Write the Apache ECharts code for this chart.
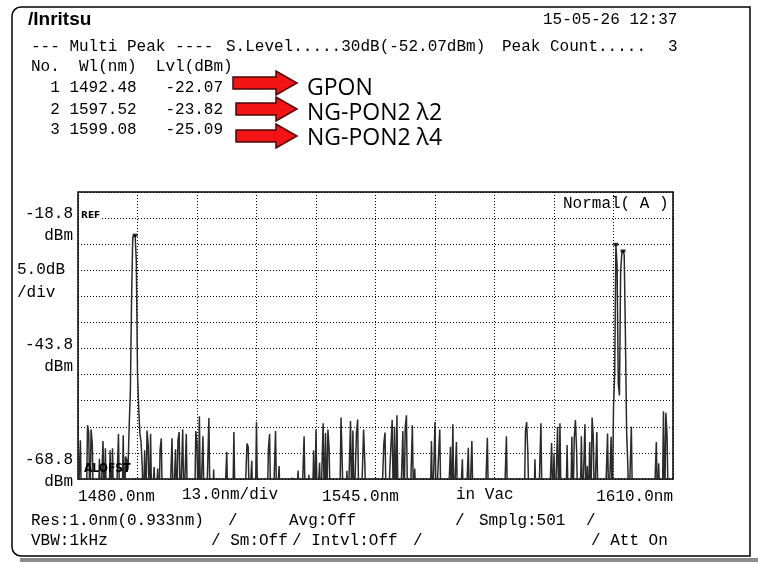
<!DOCTYPE html>
<html>
<head>
<meta charset="utf-8">
<script src="https://cdn.jsdelivr.net/npm/echarts@6/dist/echarts.min.js"></script>
<style>
  html, body { margin: 0; padding: 0; background: #fff; }
  #osa { width: 758px; height: 567px; }
</style>
</head>
<body>
<div id="osa"></div>
<script>
// Sweep settings of the OSA screen
const START_NM = 1480.0;
const STOP_NM = 1610.0;
const DIV_NM = 13.0;
const SAMPLES = 501;
const Y_MIN = -68.8;
const Y_MAX = -13.8;
const DB_PER_DIV = 5;

// Trace level per sampling point (dBm); -75 marks samples under the display floor
const traceDbm = [
  -75,-75,-61.4,-75,-75,-75,-75,-75,-58.5,-59.8,-75,-59.3,-62.0,-75,-75,-75,-75,-75,-64.9,-75,
  -75,-61.5,-75,-62.9,-75,-75,-75,-63.3,-75,-62.9,-75,-75,-75,-75,-60.2,-75,-75,-75,-60.4,-75,
  -64.5,-65.2,-67.0,-58.8,-52.2,-34.6,-22.5,-22.3,-22.07,-27.0,-48.6,-55.1,-60.1,-61.7,-66.5,-75,-63.3,-75,-59.5,-62.3,
  -75,-60.2,-75,-75,-66.5,-75,-75,-66.8,-75,-63.1,-61.0,-75,-75,-75,-75,-75,-75,-75,-75,-61.0,
  -75,-75,-63.1,-75,-61.4,-59.8,-75,-75,-59.3,-75,-75,-60.2,-75,-75,-75,-75,-75,-75,-75,-59.6,
  -62.0,-75,-56.8,-75,-75,-60.6,-75,-75,-75,-75,-57.1,-75,-75,-75,-67.0,-75,-75,-75,-75,-75,
  -75,-75,-75,-75,-75,-63.6,-75,-75,-75,-75,-75,-59.8,-75,-75,-75,-75,-75,-75,-75,-75,
  -75,-75,-62.0,-62.6,-75,-75,-65.3,-75,-75,-75,-57.9,-75,-75,-75,-75,-75,-75,-75,-75,-75,
  -63.1,-60.2,-75,-75,-75,-75,-59.6,-75,-75,-66.3,-75,-75,-75,-75,-75,-75,-75,-75,-75,-75,
  -68.5,-75,-75,-75,-75,-67.2,-75,-75,-75,-75,-60.6,-75,-75,-75,-68.0,-75,-75,-75,-63.3,-75,
  -59.3,-75,-75,-65.7,-75,-75,-58.1,-75,-60.0,-75,-59.3,-62.9,-75,-75,-75,-75,-75,-75,-75,-75,
  -75,-57.0,-65.5,-75,-75,-75,-67.2,-75,-75,-57.7,-75,-59.5,-75,-75,-60.0,-57.4,-75,-75,-75,-75,
  -59.3,-65.5,-75,-75,-75,-75,-75,-75,-75,-75,-68.5,-75,-75,-75,-75,-75,-75,-62.0,-59.9,-75,
  -75,-75,-67.1,-67.4,-57.5,-75,-58.8,-75,-56.6,-75,-75,-75,-75,-59.6,-75,-58.8,-56.6,-75,-75,-75,
  -75,-58.5,-75,-66.8,-75,-75,-75,-75,-75,-75,-75,-75,-75,-75,-75,-75,-75,-61.5,-75,-75,
  -57.9,-75,-75,-64.2,-59.3,-75,-75,-75,-75,-75,-75,-75,-75,-62.6,-75,-58.3,-75,-75,-61.7,-75,
  -75,-75,-75,-65.0,-75,-75,-75,-75,-62.8,-75,-75,-61.5,-75,-75,-75,-75,-75,-75,-75,-75,
  -75,-75,-75,-75,-60.9,-75,-75,-75,-75,-75,-75,-75,-75,-75,-75,-75,-75,-75,-75,-68.3,
  -60.6,-75,-75,-75,-75,-75,-75,-75,-75,-75,-75,-75,-75,-75,-75,-75,-59.6,-57.9,-63.6,-75,
  -75,-75,-75,-75,-65.0,-75,-75,-75,-75,-58.1,-75,-75,-75,-75,-75,-75,-75,-75,-61.9,-75,
  -63.9,-75,-75,-58.8,-75,-58.1,-75,-75,-75,-75,-75,-62.3,-75,-75,-75,-60.7,-75,-61.0,-57.5,-63.3,
  -75,-75,-75,-60.6,-75,-75,-58.3,-75,-66.3,-75,-61.7,-75,-57.0,-60.7,-75,-75,-59.8,-75,-75,-75,
  -75,-75,-75,-75,-75,-60.1,-75,-75,-60.7,-75,-55.1,-48.6,-23.82,-27.9,-50.5,-52.8,-28.9,-25.6,-25.09,-25.8,
  -41.0,-59.5,-66.0,-75,-75,-58.8,-75,-75,-75,-75,-75,-75,-75,-75,-75,-75,-75,-75,-75,-75,
  -75,-75,-75,-75,-75,-75,-61.7,-75,-65.8,-75,-75,-75,-55.8,-75,-56.1,-60.4,-75,-75,-75,-75,
  -75
];

// Multi-peak search result
const peakNo = [1, 2, 3];
const peakWl = [1492.48, 1597.52, 1599.08];
const peakLvl = [-22.07, -23.82, -25.09];
const peakNames = ['GPON', 'NG-PON2 λ2', 'NG-PON2 λ4'];

// Axis tick captions
const xTickValues = [1480, 1545, 1610];
const xTickLabels = ['1480.0nm', '1545.0nm', '1610.0nm'];
const yTickValues = [-18.8, -43.8, -68.8];
const yTickLabels = ['-18.8', '-43.8', '-68.8'];

const MONO = '"Liberation Mono", "DejaVu Sans Mono", monospace';
const MONO16 = '16px ' + MONO;

const step = (STOP_NM - START_NM) / (SAMPLES - 1);
const traceData = traceDbm.map((v, i) => [START_NM + i * step, v]);
const peakData = peakWl.map((w, k) => [w, peakLvl[k]]);

function text(x, y, s, extra) {
  return {
    type: 'text', x: x, y: y, silent: true, z: 10,
    style: Object.assign({
      text: s, font: MONO16, fill: '#000',
      textVerticalAlign: 'middle', verticalAlign: 'middle'
    }, extra || {})
  };
}

function arrow(x0, yc) {
  return {
    type: 'polygon', silent: true, z: 10,
    shape: { points: [[x0, yc - 6], [276, yc - 6], [276, yc - 12], [297, yc],
                      [276, yc + 12], [276, yc + 6], [x0, yc + 6]] },
    style: { fill: '#f01414', stroke: '#4a0606', lineWidth: 1.5 }
  };
}

const tableRows = peakNo.map((n, k) =>
  '  ' + n + ' ' + peakWl[k].toFixed(2) + '   ' + peakLvl[k].toFixed(2));
const rowY = [88, 110, 130];
const arrowY = [83, 109, 136];
const arrowX = [233, 236, 236];
const nameY = [88, 113, 138];

const graphics = [
  // screen frame
  { type: 'rect', silent: true, z: 1,
    shape: { x: 12, y: 7, width: 738, height: 549, r: [9, 0, 0, 9] },
    style: { fill: 'none', stroke: '#000', lineWidth: 1.5 } },
  { type: 'rect', silent: true, z: 1,
    shape: { x: 20, y: 558, width: 738, height: 4 },
    style: { fill: '#8c8c8c' } },

  text(28, 20, '/Inritsu', { font: 'bold 19px "Liberation Sans", sans-serif' }),
  text(543, 20, '15-05-26 12:37'),
  text(31, 47, '--- Multi Peak ----'),
  text(226, 47, 'S.Level.....30dB(-52.07dBm)'),
  text(502, 47, 'Peak Count.....'),
  text(668, 47, String(peakNo.length)),
  text(31, 67, 'No.  Wl(nm)  Lvl(dBm)'),

  text(17, 270, '5.0dB'),
  text(17, 293, '/div'),
  text(81, 216, 'REF', { font: 'bold 9px "DejaVu Sans", sans-serif', backgroundColor: '#fff', padding: [0, 1, 0, 0] }),
  text(84, 469, 'ALOFST', { font: 'bold 12px "DejaVu Sans Condensed", "DejaVu Sans", sans-serif' }),
  text(563, 204, 'Normal( A )'),

  text(182, 495, DIV_NM.toFixed(1) + 'nm/div'),
  text(456, 495, 'in Vac'),

  text(31, 521, 'Res:1.0nm(0.933nm)'),
  text(228, 521, '/'),
  text(289, 521, 'Avg:Off'),
  text(455, 521, '/'),
  text(479, 521, 'Smplg:' + SAMPLES),
  text(586, 521, '/'),
  text(31, 541, 'VBW:1kHz'),
  text(211, 541, '/ Sm:Off'),
  text(292, 541, '/ Intvl:Off'),
  text(413, 541, '/'),
  text(591, 541, '/ Att On')
];

tableRows.forEach((r, k) => graphics.push(text(31, rowY[k], r)));
peakNames.forEach((name, k) => {
  graphics.push(arrow(arrowX[k], arrowY[k]));
  graphics.push(text(307, nameY[k], name, { font: '23px "Open Sans", sans-serif' }));
});

const chart = echarts.init(document.getElementById('osa'), null, { renderer: 'canvas' });

const dotted = { color: '#000', width: 1, type: [1, 2] };

chart.setOption({
  animation: false,
  backgroundColor: '#fff',
  grid: {
    left: 78, top: 192, width: 595, height: 287,
    show: true, borderColor: '#000', borderWidth: 1.5, backgroundColor: 'transparent'
  },
  xAxis: {
    type: 'value', min: START_NM, max: STOP_NM, interval: DIV_NM,
    axisLine: { show: false }, axisTick: { show: false },
    splitLine: { show: true, lineStyle: dotted },
    axisLabel: {
      show: true, margin: 10, fontFamily: MONO, fontSize: 16, color: '#000',
      alignMinLabel: 'left', alignMaxLabel: 'right',
      showMinLabel: true, showMaxLabel: true,
      formatter: function (v) {
        const k = xTickValues.findIndex(t => Math.abs(t - v) < 1e-6);
        if (k < 0) return '';
        if (k === 1) return '{c|' + xTickLabels[k] + '}';
        return xTickLabels[k];
      },
      rich: { c: { fontFamily: MONO, fontSize: 16, color: '#000', padding: [0, 30, 0, 0] } }
    }
  },
  yAxis: {
    type: 'value', min: Y_MIN, max: Y_MAX, interval: DB_PER_DIV,
    axisLine: { show: false }, axisTick: { show: false },
    splitLine: { show: true, lineStyle: dotted },
    axisLabel: {
      show: true, margin: 5, fontFamily: MONO, fontSize: 16, color: '#000',
      showMinLabel: true, showMaxLabel: true,
      formatter: function (v) {
        const k = yTickValues.findIndex(t => Math.abs(t - v) < 1e-6);
        if (k < 0) return '';
        if (k === yTickValues.length - 1) {
          return '{n|' + yTickLabels[k] + '}\n{n|dBm}\n{b| }';
        }
        return '{a| }\n{n|' + yTickLabels[k] + '}\n{n|dBm}';
      },
      rich: {
        a: { fontSize: 8, lineHeight: 14 },
        b: { fontSize: 8, lineHeight: 16 },
        n: { fontFamily: MONO, fontSize: 16, lineHeight: 22, color: '#000', align: 'right' }
      }
    }
  },
  series: [
    {
      type: 'line', data: traceData, showSymbol: false, symbol: 'none',
      clip: true, lineStyle: { color: '#2a2a2a', width: 1.5 }, z: 3
    },
    {
      type: 'scatter', data: peakData, symbol: 'rect', symbolSize: [5, 3],
      itemStyle: { color: '#000' }, z: 4, silent: true
    }
  ],
  graphic: graphics
});
</script>
</body>
</html>
